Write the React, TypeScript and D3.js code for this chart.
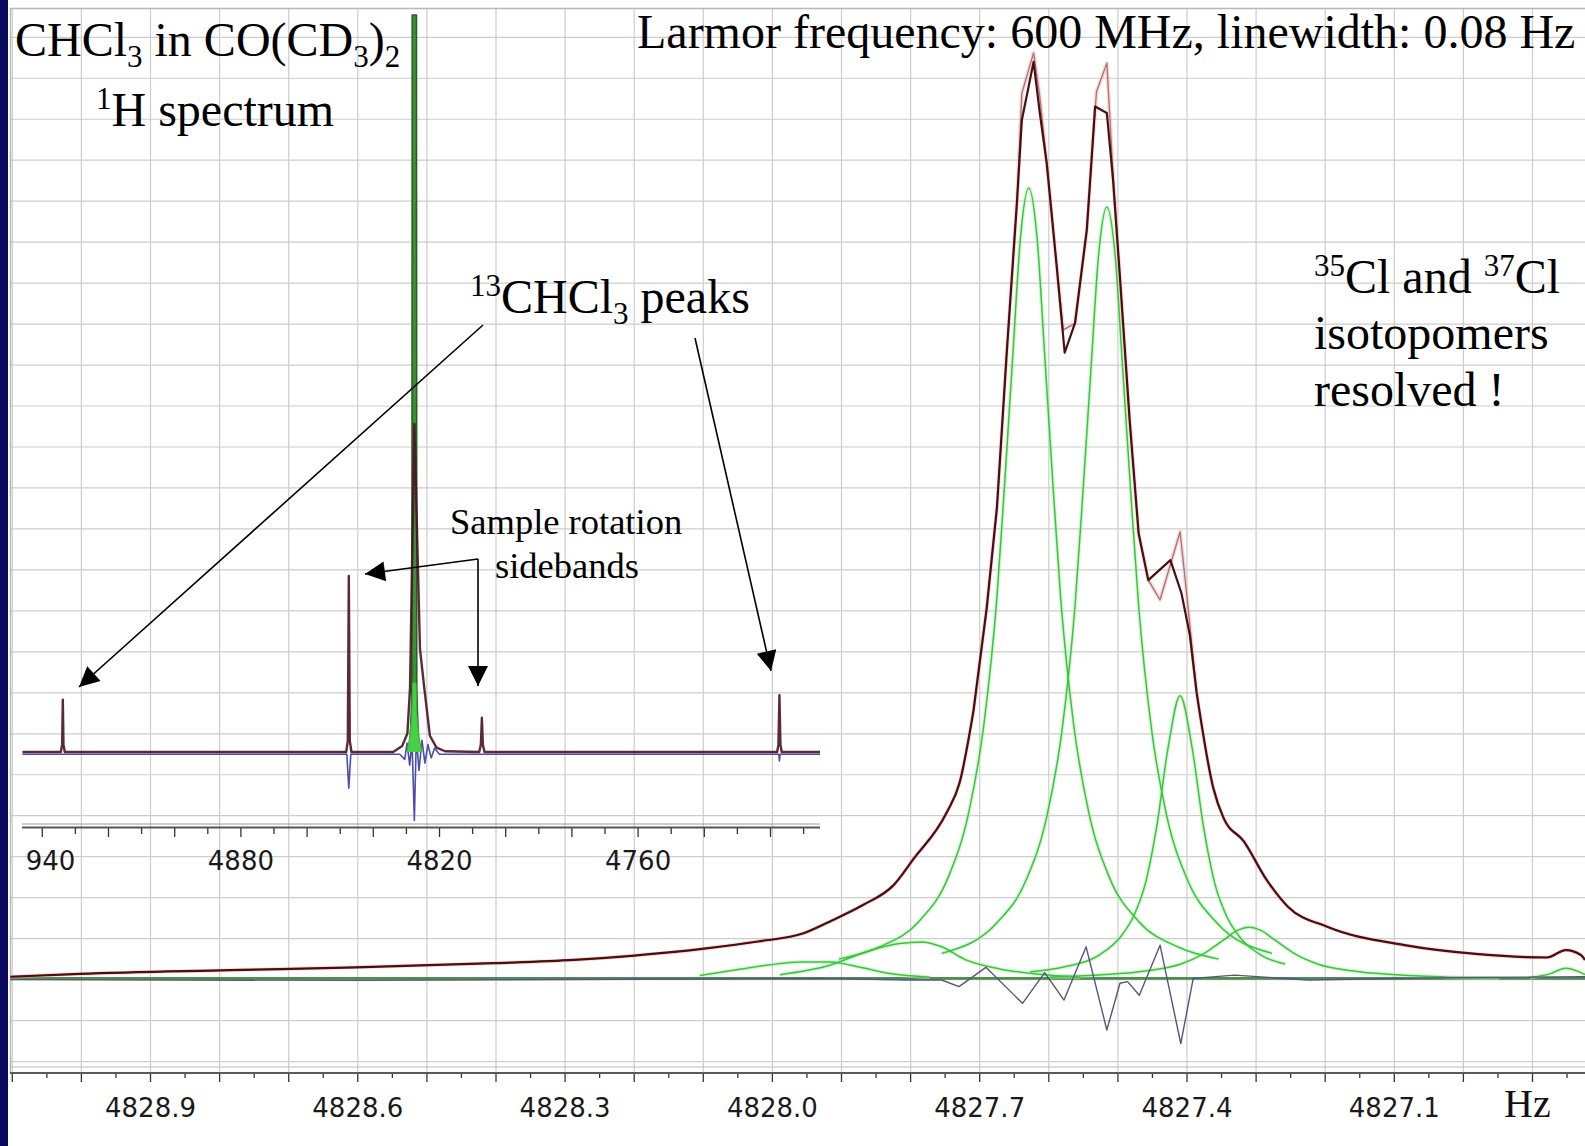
import React from 'react';
import * as d3 from 'd3';

type Pt = [number, number];

// ---------- main spectrum (Hz, intensity in grid units) ----------
const fitSum: Pt[] = [
  [4829.103, 0.07], [4829.002, 0.14], [4828.786, 0.23], [4828.603, 0.30], [4828.403, 0.40],
  [4828.287, 0.48], [4828.204, 0.58], [4828.096, 0.76], [4828.021, 0.93], [4827.955, 1.13],
  [4827.913, 1.45], [4827.869, 1.82], [4827.825, 2.30], [4827.796, 2.94], [4827.748, 4.07],
  [4827.729, 4.81], [4827.709, 6.56], [4827.690, 9.05], [4827.675, 11.53], [4827.661, 15.27],
  [4827.646, 19.0], [4827.639, 20.98], [4827.622, 22.40], [4827.613, 21.15], [4827.603, 19.93],
  [4827.589, 17.49], [4827.577, 15.30], [4827.562, 16.03], [4827.545, 18.30], [4827.533, 21.31],
  [4827.516, 21.15], [4827.507, 19.52], [4827.497, 17.13], [4827.483, 13.66], [4827.470, 10.89],
  [4827.456, 9.75], [4827.424, 10.24], [4827.408, 9.43], [4827.396, 8.42], [4827.386, 7.00],
  [4827.362, 4.68], [4827.347, 3.94], [4827.318, 3.38], [4827.285, 2.44], [4827.254, 1.78],
  [4827.197, 1.29], [4827.085, 0.84], [4826.978, 0.62], [4826.879, 0.54], [4826.852, 0.72],
  [4826.830, 0.60], [4826.824, 0.48],
];

const observed: Pt[] = [
  [4829.103, 0.07], [4829.002, 0.14], [4828.786, 0.23], [4828.603, 0.30], [4828.403, 0.40],
  [4828.287, 0.48], [4828.204, 0.58], [4828.096, 0.76], [4828.021, 0.93], [4827.955, 1.13],
  [4827.913, 1.45], [4827.869, 1.82], [4827.825, 2.30], [4827.796, 2.94], [4827.748, 4.07],
  [4827.729, 4.81], [4827.709, 6.56], [4827.690, 9.05], [4827.675, 11.53], [4827.661, 15.27],
  [4827.646, 19.0], [4827.639, 21.63], [4827.622, 22.62], [4827.613, 21.55], [4827.603, 19.93],
  [4827.589, 17.49], [4827.579, 15.86], [4827.562, 16.02], [4827.545, 18.30], [4827.531, 21.67],
  [4827.516, 22.37], [4827.507, 19.64], [4827.497, 17.13], [4827.483, 13.66], [4827.470, 10.89],
  [4827.456, 9.75], [4827.439, 9.27], [4827.410, 10.93], [4827.401, 9.50], [4827.386, 7.00],
  [4827.362, 4.68], [4827.347, 3.94], [4827.318, 3.38], [4827.285, 2.44], [4827.254, 1.78],
  [4827.197, 1.29], [4827.085, 0.84], [4826.978, 0.62], [4826.879, 0.54], [4826.852, 0.72],
  [4826.830, 0.60], [4826.824, 0.48],
];

const compA: Pt[] = [
  [4827.904, 0.50], [4827.846, 0.79], [4827.788, 1.42], [4827.745, 2.52], [4827.716, 4.07],
  [4827.694, 6.22], [4827.675, 9.35], [4827.664, 12.08], [4827.652, 15.26], [4827.641, 18.11],
  [4827.629, 19.32], [4827.617, 18.11], [4827.606, 15.26], [4827.594, 12.08], [4827.583, 9.35],
  [4827.564, 6.22], [4827.542, 4.07], [4827.513, 2.52], [4827.470, 1.42], [4827.412, 0.79],
  [4827.354, 0.50],
];

const compB: Pt[] = [
  [4827.755, 0.64], [4827.675, 1.39], [4827.632, 2.46], [4827.603, 3.97], [4827.581, 6.07],
  [4827.562, 9.13], [4827.551, 11.79], [4827.539, 14.89], [4827.528, 17.68], [4827.516, 18.86],
  [4827.504, 17.68], [4827.493, 14.89], [4827.481, 11.79], [4827.470, 9.13], [4827.451, 6.07],
  [4827.429, 3.97], [4827.400, 2.46], [4827.357, 1.39], [4827.277, 0.64],
];

const compC: Pt[] = [
  [4827.627, 0.19], [4827.578, 0.31], [4827.527, 0.60], [4827.494, 1.09], [4827.477, 1.56],
  [4827.460, 2.36], [4827.444, 3.72], [4827.427, 5.70], [4827.410, 6.93], [4827.393, 5.70],
  [4827.376, 3.72], [4827.360, 2.36], [4827.343, 1.56], [4827.326, 1.09], [4827.293, 0.60],
  [4827.258, 0.38],
];

const compD: Pt[] = [
  [4827.599, 0.06], [4827.527, 0.11], [4827.455, 0.22], [4827.411, 0.37], [4827.375, 0.64],
  [4827.346, 0.98], [4827.327, 1.20], [4827.310, 1.28], [4827.293, 1.20], [4827.274, 0.98],
  [4827.245, 0.64], [4827.209, 0.37], [4827.165, 0.22], [4827.093, 0.11], [4827.021, 0.06],
  [4826.948, 0.04],
];

const compE: Pt[] = [
  [4827.989, 0.12], [4827.917, 0.35], [4827.861, 0.70], [4827.816, 0.88], [4827.784, 0.92],
  [4827.755, 0.80], [4827.720, 0.48], [4827.671, 0.26], [4827.613, 0.13], [4827.555, 0.06],
];

const compF: Pt[] = [
  [4828.105, 0.10], [4828.047, 0.25], [4828.004, 0.36], [4827.960, 0.43], [4827.917, 0.43],
  [4827.873, 0.30], [4827.830, 0.15], [4827.772, 0.06],
];

const compG: Pt[] = [
  [4826.904, 0.05], [4826.875, 0.14], [4826.852, 0.28], [4826.834, 0.20], [4826.824, 0.12],
];

const compBase: Pt[] = [[4829.103, 0.03], [4826.824, 0.03]];

const residual: Pt[] = [
  [4829.103, 0.0], [4828.6, -0.02], [4828.2, 0.01], [4827.931, 0.03], [4827.804, -0.01],
  [4827.755, -0.01], [4827.730, -0.17], [4827.691, 0.30], [4827.638, -0.58], [4827.606, 0.17],
  [4827.578, -0.50], [4827.546, 0.80], [4827.516, -1.23], [4827.497, -0.09], [4827.486, -0.05],
  [4827.469, -0.38], [4827.439, 0.84], [4827.409, -1.56], [4827.391, 0.03], [4827.331, 0.11],
  [4827.225, -0.01], [4827.0, 0.05], [4826.824, 0.07],
];

const mainTickLabels = [4828.9, 4828.6, 4828.3, 4828.0, 4827.7, 4827.4, 4827.1];

// ---------- inset: full spectrum (Hz, relative intensity) ----------
const insetObserved: Pt[] = [
  [4946, 0], [4934.4, 0], [4934.0, 1.0], [4933.8, 7.1], [4933.6, 1.0], [4933.2, 0],
  [4848.2, 0], [4847.7, 1.5], [4847.4, 23.9], [4847.1, 1.5], [4846.6, 0],
  [4834.0, 0], [4831.3, 0.8], [4829.7, 2.5], [4828.9, 8.7], [4827.6, 44.5],
  [4825.9, 14.0], [4824.6, 8.7], [4822.9, 2.2], [4820.9, 0.6], [4818.3, 0.1],
  [4808.0, 0], [4807.5, 1.0], [4807.2, 4.65], [4806.9, 1.0], [4806.4, 0],
  [4718.0, 0], [4717.6, 1.0], [4717.3, 7.7], [4717.0, 1.0], [4716.6, 0], [4705, 0],
];

const insetResidual: Pt[] = [
  [4946, -0.3], [4848.0, -0.3], [4847.4, -4.9], [4846.8, -0.3], [4832.0, -0.3],
  [4830.5, -1.0], [4829.8, 1.2], [4829.0, -1.8], [4828.3, 1.5], [4827.6, -9.3],
  [4827.0, 2.0], [4826.2, -2.5], [4825.3, 1.6], [4824.4, -1.5], [4823.5, 1.0],
  [4822.5, -0.8], [4821.5, 0.5], [4820.0, -0.3], [4717.5, -0.3], [4717.3, -1.2],
  [4717.1, -0.3], [4705, -0.3],
];

const insetFitPeak: Pt[] = [
  [4829.6, 0], [4828.9, 1.5], [4828.5, 6], [4828.35, 9], [4828.25, 100], [4826.95, 100],
  [4826.85, 9], [4826.7, 6], [4826.3, 1.5], [4825.6, 0],
];

const insetFitBase: Pt[] = [
  [4829.9, 0], [4829.0, 2], [4828.4, 5], [4828.1, 9.4], [4827.1, 9.4], [4826.8, 5],
  [4826.2, 2], [4825.3, 0],
];

const insetTickLabels = [4940, 4880, 4820, 4760];

// frequency window (Hz) inside which the sampled peak vertices are joined by straight segments
const peakWindow: [number, number] = [4827.386, 4827.709];

const SERIF = "'Liberation Serif', 'Times New Roman', serif";
const SANS = "'DejaVu Sans', sans-serif";

export default function App() {
  const W = 1585;
  const H = 1146;

  const x = d3.scaleLinear().domain([4828.9, 4827.1]).range([150.5, 1394.3]);
  const y = d3.scaleLinear().domain([0, 22]).range([979.6, 78.26]);
  const xi = d3.scaleLinear().domain([4880, 4760]).range([240.9, 638.1]);
  const yi = d3.scaleLinear().domain([0, 100]).range([752, 15]);

  const linLine = d3.line<Pt>().x((d) => x(d[0])).y((d) => y(d[1]));
  const smoothLine = d3
    .line<Pt>()
    .x((d) => x(d[0]))
    .y((d) => y(d[1]))
    .curve(d3.curveMonotoneX);
  const insetLine = d3.line<Pt>().x((d) => xi(d[0])).y((d) => yi(d[1]));

  // smooth tails + straight-segment peak region
  const hybrid = (pts: Pt[]) => {
    const [lo, hi] = peakWindow;
    const left = pts.filter((p) => p[0] >= hi);
    const mid = pts.filter((p) => p[0] <= hi && p[0] >= lo);
    const right = pts.filter((p) => p[0] <= lo);
    return (smoothLine(left) || '') + (linLine(mid) || '') + (smoothLine(right) || '');
  };

  const gridX = d3.range(0, 23).map((i) => +(4829.1 - i * 0.1).toFixed(2));
  const minorX = d3.range(0, 46).map((i) => +(4829.1 - i * 0.05).toFixed(3));
  const gridY = d3.range(-2, 24);
  const insetTicks = d3.range(4940, 4705, -10);

  const comps = [compA, compB, compC, compD, compE, compF, compG];

  return (
    <svg
      width={W}
      height={H}
      viewBox={`0 0 ${W} ${H}`}
      style={{ position: 'absolute', left: 0, top: 0, display: 'block', background: '#fff' }}
    >
      <defs>
        <clipPath id="plotClip">
          <rect x={10} y={8} width={W - 10} height={1064} />
        </clipPath>
        <clipPath id="insetClip">
          <rect x={22} y={0} width={798} height={824} />
        </clipPath>
        <clipPath id="insetLabelClip">
          <rect x={25} y={830} width={800} height={60} />
        </clipPath>
        <marker
          id="ah"
          viewBox="0 0 10 10"
          refX={10}
          refY={5}
          markerWidth={24}
          markerHeight={20}
          markerUnits="userSpaceOnUse"
          orient="auto"
        >
          <path d="M0,0 L10,5 L0,10 z" fill="#000" />
        </marker>
      </defs>

      <rect x={0} y={0} width={W} height={H} fill="#fff" />

      {/* grid */}
      <g stroke="#cdcdcd" strokeWidth={1.2}>
        {gridX.map((f) => (
          <line key={'gx' + f} x1={x(f)} x2={x(f)} y1={8} y2={1072} />
        ))}
        {gridY.map((v) => (
          <line key={'gy' + v} x1={10} x2={W} y1={y(v)} y2={y(v)} />
        ))}
      </g>
      <line x1={10} x2={W} y1={8.5} y2={8.5} stroke="#b8b8b8" strokeWidth={1.5} />
      <line x1={10.5} x2={10.5} y1={8} y2={1072} stroke="#b8b8b8" strokeWidth={1.5} />

      {/* main axis */}
      <line x1={10} x2={W} y1={1067} y2={1067} stroke="#bdbdbd" strokeWidth={1} />
      <line x1={10} x2={W} y1={1073} y2={1073} stroke="#5a5a5a" strokeWidth={2.2} />
      <g stroke="#333" strokeWidth={1.3}>
        {minorX.map((f, i) => (
          <line key={'t' + f} x1={x(f)} x2={x(f)} y1={1074} y2={i % 2 === 0 ? 1082 : 1078} />
        ))}
      </g>
      <g fontFamily={SANS} fontSize={26} fill="#1a1a1a" textAnchor="middle">
        {mainTickLabels.map((f) => (
          <text key={'ml' + f} x={x(f)} y={1117}>
            {f.toFixed(1)}
          </text>
        ))}
      </g>
      <text x={1504} y={1117} fontFamily={SERIF} fontSize={40} fill="#111">
        Hz
      </text>

      {/* main traces */}
      <g clipPath="url(#plotClip)" fill="none" strokeLinejoin="round">
        <path d={linLine(compBase) || ''} stroke="#2f7a2f" strokeWidth={2.8} opacity={0.85} />
        {comps.map((c, i) => (
          <path key={'ch' + i} d={smoothLine(c) || ''} stroke="#b4eeb4" strokeWidth={4} opacity={0.5} />
        ))}
        {comps.map((c, i) => (
          <path key={'c' + i} d={smoothLine(c) || ''} stroke="#3cc43c" strokeWidth={1.5} />
        ))}
        <path d={linLine(residual) || ''} stroke="#55557f" strokeWidth={1.4} />
        <path d={hybrid(observed)} stroke="#efb8b8" strokeWidth={4} opacity={0.5} />
        <path d={hybrid(observed)} stroke="#a87472" strokeWidth={1.3} />
        <path d={hybrid(fitSum)} stroke="#4b0d12" strokeWidth={2.2} />
      </g>

      {/* inset traces */}
      <g clipPath="url(#insetClip)" strokeLinejoin="round">
        <path d={insetLine(insetResidual) || ''} fill="none" stroke="#4d4dad" strokeWidth={1.6} />
        <path
          d={insetLine(insetFitPeak) || ''}
          fill="#3b8f34"
          stroke="#2a5c22"
          strokeWidth={1.5}
        />
        <path d={insetLine(insetFitBase) || ''} fill="#46d046" stroke="#36b036" strokeWidth={1} />
        <path d={insetLine(insetObserved) || ''} fill="none" stroke="#4a1226" strokeWidth={2.4} opacity={0.9} />
      </g>

      {/* inset axis */}
      <line x1={22} x2={820} y1={824} y2={824} stroke="#9a9a9a" strokeWidth={1} />
      <line x1={22} x2={820} y1={827.5} y2={827.5} stroke="#555" strokeWidth={2} />
      <g stroke="#333" strokeWidth={1.3}>
        {insetTicks.map((f, i) => (
          <line key={'it' + f} x1={xi(f)} x2={xi(f)} y1={828} y2={i % 2 === 0 ? 837 : 834} />
        ))}
      </g>
      <g clipPath="url(#insetLabelClip)" fontFamily={SANS} fontSize={26} fill="#1a1a1a" textAnchor="middle">
        {insetTickLabels.map((f) => (
          <text key={'il' + f} x={xi(f)} y={870}>
            {f}
          </text>
        ))}
      </g>

      {/* annotations */}
      <g fontFamily={SERIF} fill="#000">
        <text x={15} y={56} fontSize={48}>
          CHCl<tspan fontSize={31} dy={11}>3</tspan>
          <tspan dy={-11}> in CO(CD</tspan>
          <tspan fontSize={31} dy={11}>3</tspan>
          <tspan dy={-11}>)</tspan>
          <tspan fontSize={31} dy={11}>2</tspan>
        </text>
        <text x={96} y={126} fontSize={48}>
          <tspan fontSize={31} dy={-17}>1</tspan>
          <tspan dy={17}>H spectrum</tspan>
        </text>
        <text x={637} y={48} fontSize={48}>
          Larmor frequency: 600 MHz, linewidth: 0.08 Hz
        </text>
        <text x={470} y={313} fontSize={48}>
          <tspan fontSize={31} dy={-17}>13</tspan>
          <tspan dy={17}>CHCl</tspan>
          <tspan fontSize={31} dy={11}>3</tspan>
          <tspan dy={-11}> peaks</tspan>
        </text>
        <text x={1314} y={293} fontSize={48}>
          <tspan fontSize={31} dy={-17}>35</tspan>
          <tspan dy={17}>Cl and </tspan>
          <tspan fontSize={31} dy={-17}>37</tspan>
          <tspan dy={17}>Cl</tspan>
        </text>
        <text x={1314} y={349} fontSize={48}>
          isotopomers
        </text>
        <text x={1314} y={406} fontSize={48}>
          resolved !
        </text>
        <text x={450} y={534} fontSize={36.5}>
          Sample rotation
        </text>
        <text x={495} y={578} fontSize={36.5}>
          sidebands
        </text>
      </g>

      <g stroke="#000" strokeWidth={1.6} fill="none">
        <line x1={483} y1={325} x2={79} y2={687} markerEnd="url(#ah)" />
        <line x1={695} y1={338} x2={771} y2={671} markerEnd="url(#ah)" />
        <line x1={478} y1={559} x2={365} y2={574} markerEnd="url(#ah)" />
        <line x1={478} y1={559} x2={478} y2={686} markerEnd="url(#ah)" />
      </g>

      {/* left navy border */}
      <rect x={0} y={0} width={8} height={H} fill="#0b0b5e" />
    </svg>
  );
}
